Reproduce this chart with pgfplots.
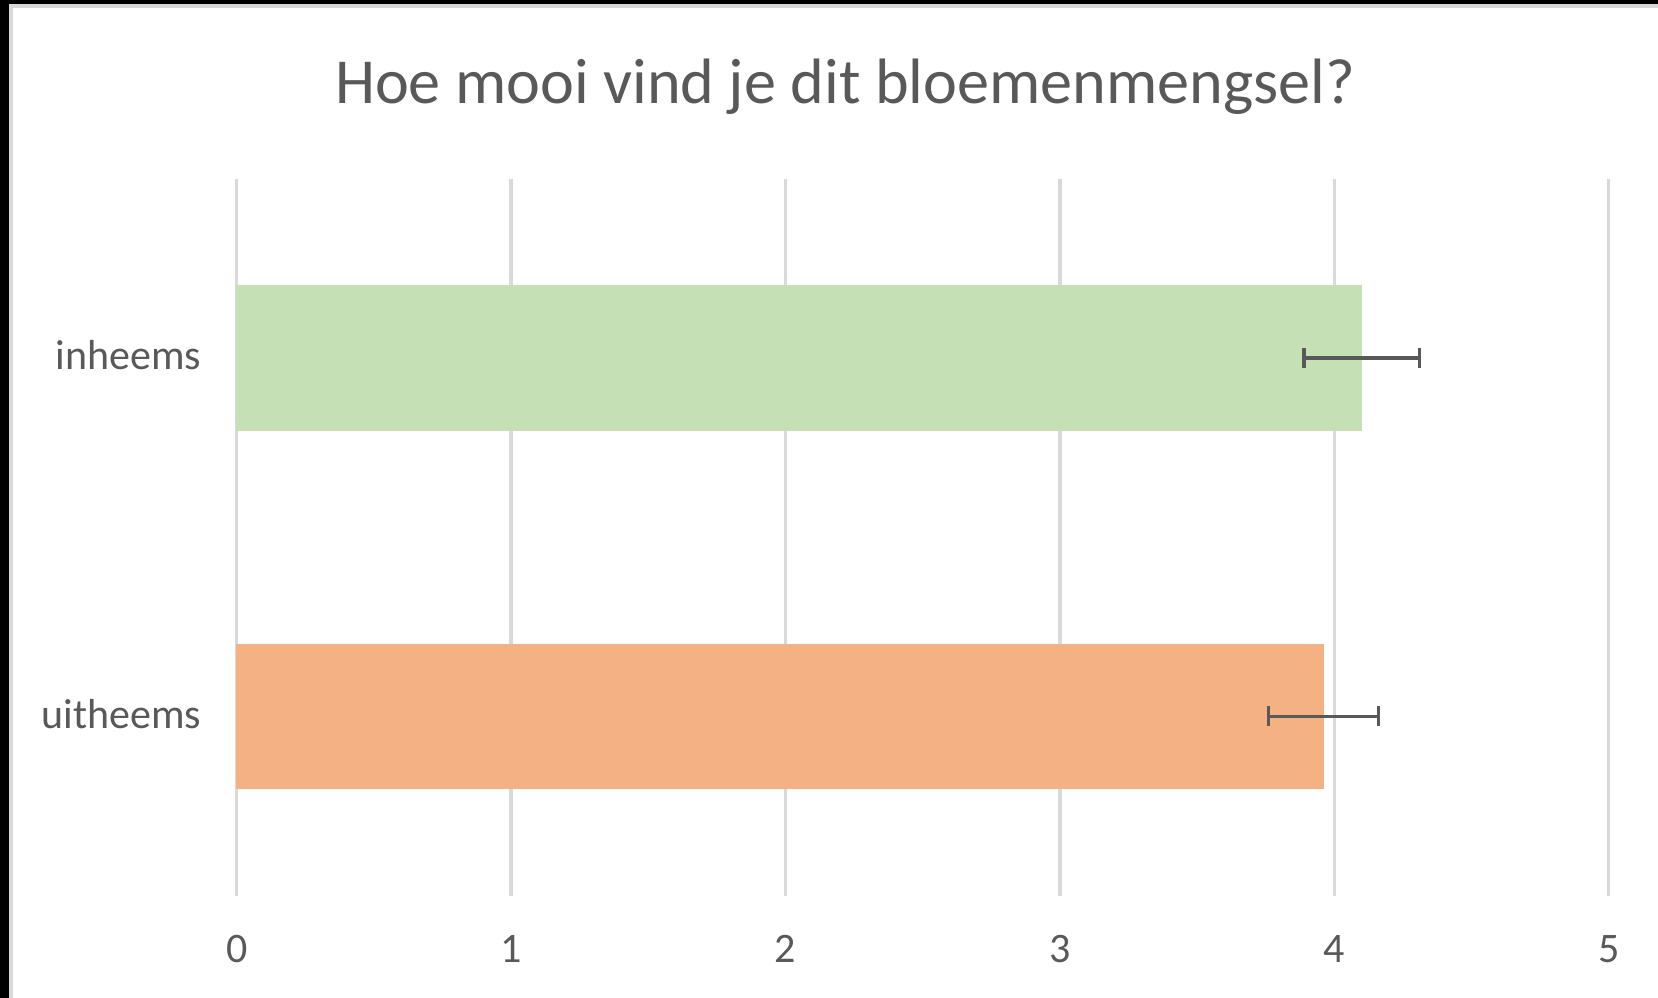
\documentclass[border=0pt]{standalone}
\usepackage{pgfplots}
\pgfplotsset{compat=1.18}
\usepackage{fontspec}
\setmainfont{Carlito}
\definecolor{txt}{HTML}{595959}
\definecolor{grid}{HTML}{D9D9D9}
\definecolor{green}{HTML}{C5E0B4}
\definecolor{orange}{HTML}{F4B183}
\begin{document}
\begin{tikzpicture}
\fill[black] (0,0) rectangle (497.4pt,299.4pt);
\fill[grid] (2.7pt,0) rectangle (497.4pt,298.2pt);
\fill[white] (3.9pt,0) rectangle (497.4pt,297.0pt);
\useasboundingbox (0,0) rectangle (497.4pt,299.4pt);
\node[anchor=base, text=txt, font=\fontsize{19.25}{23}\selectfont, inner sep=0] at (253.5pt,268.4pt) {Hoe mooi vind je dit bloemenmengsel?};
\begin{axis}[
  at={(71pt,30.7pt)}, anchor=south west,
  scale only axis, width=411.6pt, height=215pt,
  xmin=0, xmax=5, ymin=-0.5, ymax=1.5,
  xtick={0,1,2,3,4,5}, ytick={0,1}, yticklabels={uitheems,inheems},
  xmajorgrids, major grid style={draw=grid, line width=1pt},
  axis line style={draw=none},
  major tick length=0pt,
  tick label style={text=txt, font=\fontsize{12.6}{15}\selectfont, inner sep=0pt},
  /pgf/number format/assume math mode=true,
  xticklabel style={anchor=base, yshift=-20.1pt},
  yticklabel style={anchor=base east, xshift=-10.4pt, yshift=-3.5pt},
  bar width=0.4045,
  clip=false,
]
\addplot[xbar, fill=green, draw=green, line width=0pt,
  error bars/.cd, x dir=both, x explicit, error mark=|,
  error bar style={draw=txt, line width=1pt},
  error mark options={draw=txt, line width=1pt, mark size=3pt}]
  coordinates {(4.10,1) +- (0.21,0)};
\addplot[xbar, fill=orange, draw=orange, line width=0pt,
  error bars/.cd, x dir=both, x explicit, error mark=|,
  error bar style={draw=txt, line width=1pt},
  error mark options={draw=txt, line width=1pt, mark size=3pt}]
  coordinates {(3.96,0) +- (0.20,0)};
\end{axis}
\end{tikzpicture}
\end{document}
